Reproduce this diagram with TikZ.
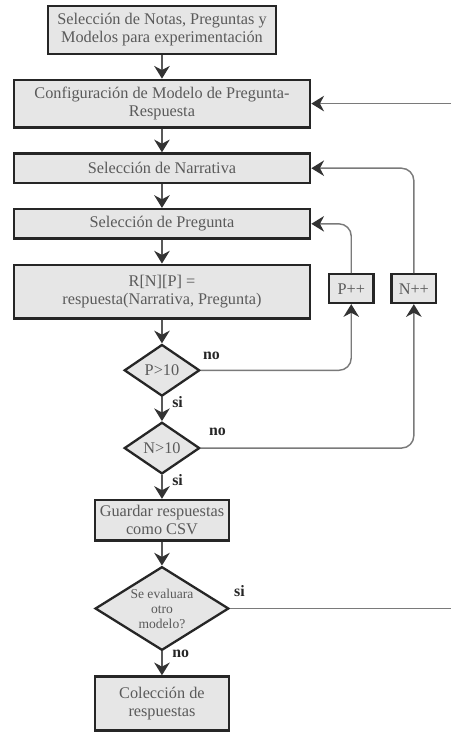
\documentclass[tikz,border=0pt]{standalone}
\usepackage{fontspec}
\setmainfont{Liberation Serif}
\usetikzlibrary{shapes.geometric,arrows.meta,positioning}
\definecolor{boxfill}{HTML}{E6E6E6}
\definecolor{boxline}{HTML}{262626}
\definecolor{txtgray}{HTML}{5A5A5A}
\definecolor{linegray}{HTML}{7A7A7A}
\definecolor{tipcol}{HTML}{333333}
\newcommand{\smalldec}{\fontsize{9.4}{10.4}\selectfont}

\begin{document}
\begin{tikzpicture}[
    font=\fontsize{11.3}{12.6}\selectfont,
    node distance=5.8mm,
    box/.style={draw=boxline,line width=1.6pt,fill=boxfill,text=txtgray,align=center,inner sep=2pt},
    wide/.style={box,minimum width=72.3mm},
    dec/.style={diamond,draw=boxline,line width=1.6pt,fill=boxfill,text=txtgray,align=center,inner sep=0pt},
    inc/.style={box,minimum width=10.9mm,minimum height=7mm},
    lbl/.style={font=\fontsize{11}{12}\selectfont\bfseries,text=black!85,inner sep=1pt},
    arr/.style={-{Stealth[length=3.1mm,width=3.8mm,color=tipcol]},draw=black!65,line width=1pt},
    back/.style={arr,draw=linegray,rounded corners=3mm},
  ]
    \useasboundingbox (-39.5mm,7.3mm) rectangle (70.5mm,-171.95mm);
    \coordinate (redge) at (70.5mm,0);

    \node[box,minimum width=55.5mm,minimum height=11.6mm] (sel) at (0,0)
      {Selección de Notas, Preguntas y\\Modelos para experimentación};
    \node[wide,below=of sel,minimum height=11.6mm] (conf) {Configuración de Modelo de Pregunta-\\Respuesta};
    \node[wide,below=of conf,minimum height=7.2mm] (narr) {Selección de Narrativa};
    \node[wide,below=of narr,minimum height=7.2mm] (preg) {Selección de Pregunta};
    \node[wide,below=of preg,minimum height=13.1mm] (resp) {R[N][P] =\\respuesta(Narrativa, Pregunta)};
    \node[inc,right=4mm of resp,yshift=0.7mm] (pinc) {P++};
    \node[inc,right=3.8mm of pinc] (ninc) {N++};
    \node[dec,below=of resp,minimum width=18.4mm,minimum height=12.6mm] (pdec) {P>10};
    \node[dec,below=of pdec,minimum width=18.4mm,minimum height=12.6mm] (ndec) {N>10};
    \node[box,below=of ndec,minimum width=32.6mm,minimum height=9.9mm] (csv) {Guardar respuestas\\como CSV};
    \node[dec,below=of csv,aspect=1.6,minimum width=32.6mm,minimum height=20.4mm,font=\smalldec] (eval)
      {Se evaluara\\otro\\modelo?};
    \node[box,below=of eval,minimum width=32.6mm,minimum height=13.2mm] (coll) {Colección de\\respuestas};

    % main flow
    \draw[arr] (sel) -- (conf);
    \draw[arr] (conf) -- (narr);
    \draw[arr] (narr) -- (preg);
    \draw[arr] (preg) -- (resp);
    \draw[arr] (resp) -- (pdec);
    \draw[arr] (pdec) -- node[lbl,right,pos=0.2,xshift=2mm]{si} (ndec);
    \draw[arr] (ndec) -- node[lbl,right,pos=0.2,xshift=2mm]{si} (csv);
    \draw[arr] (csv) -- (eval);
    \draw[arr] (eval) -- node[lbl,right,pos=0.1,xshift=2mm]{no} (coll);

    % loops
    \draw[back] (pdec.east) node[lbl,above right,yshift=2mm]{no} -| (pinc.south);
    \draw[back] (pinc.north) |- (preg.east);
    \draw[back] (ndec.east) node[lbl,above right,xshift=1.5mm,yshift=2.4mm]{no} -| (ninc.south);
    \draw[back] (ninc.north) |- (narr.east);
    \draw[back,-] (eval.east) node[lbl,above right,xshift=0.5mm,yshift=2.4mm]{si} -- (eval.east -| redge);
    \draw[back] (conf.east -| redge) -- (conf.east);
  \end{tikzpicture}
\end{document}
